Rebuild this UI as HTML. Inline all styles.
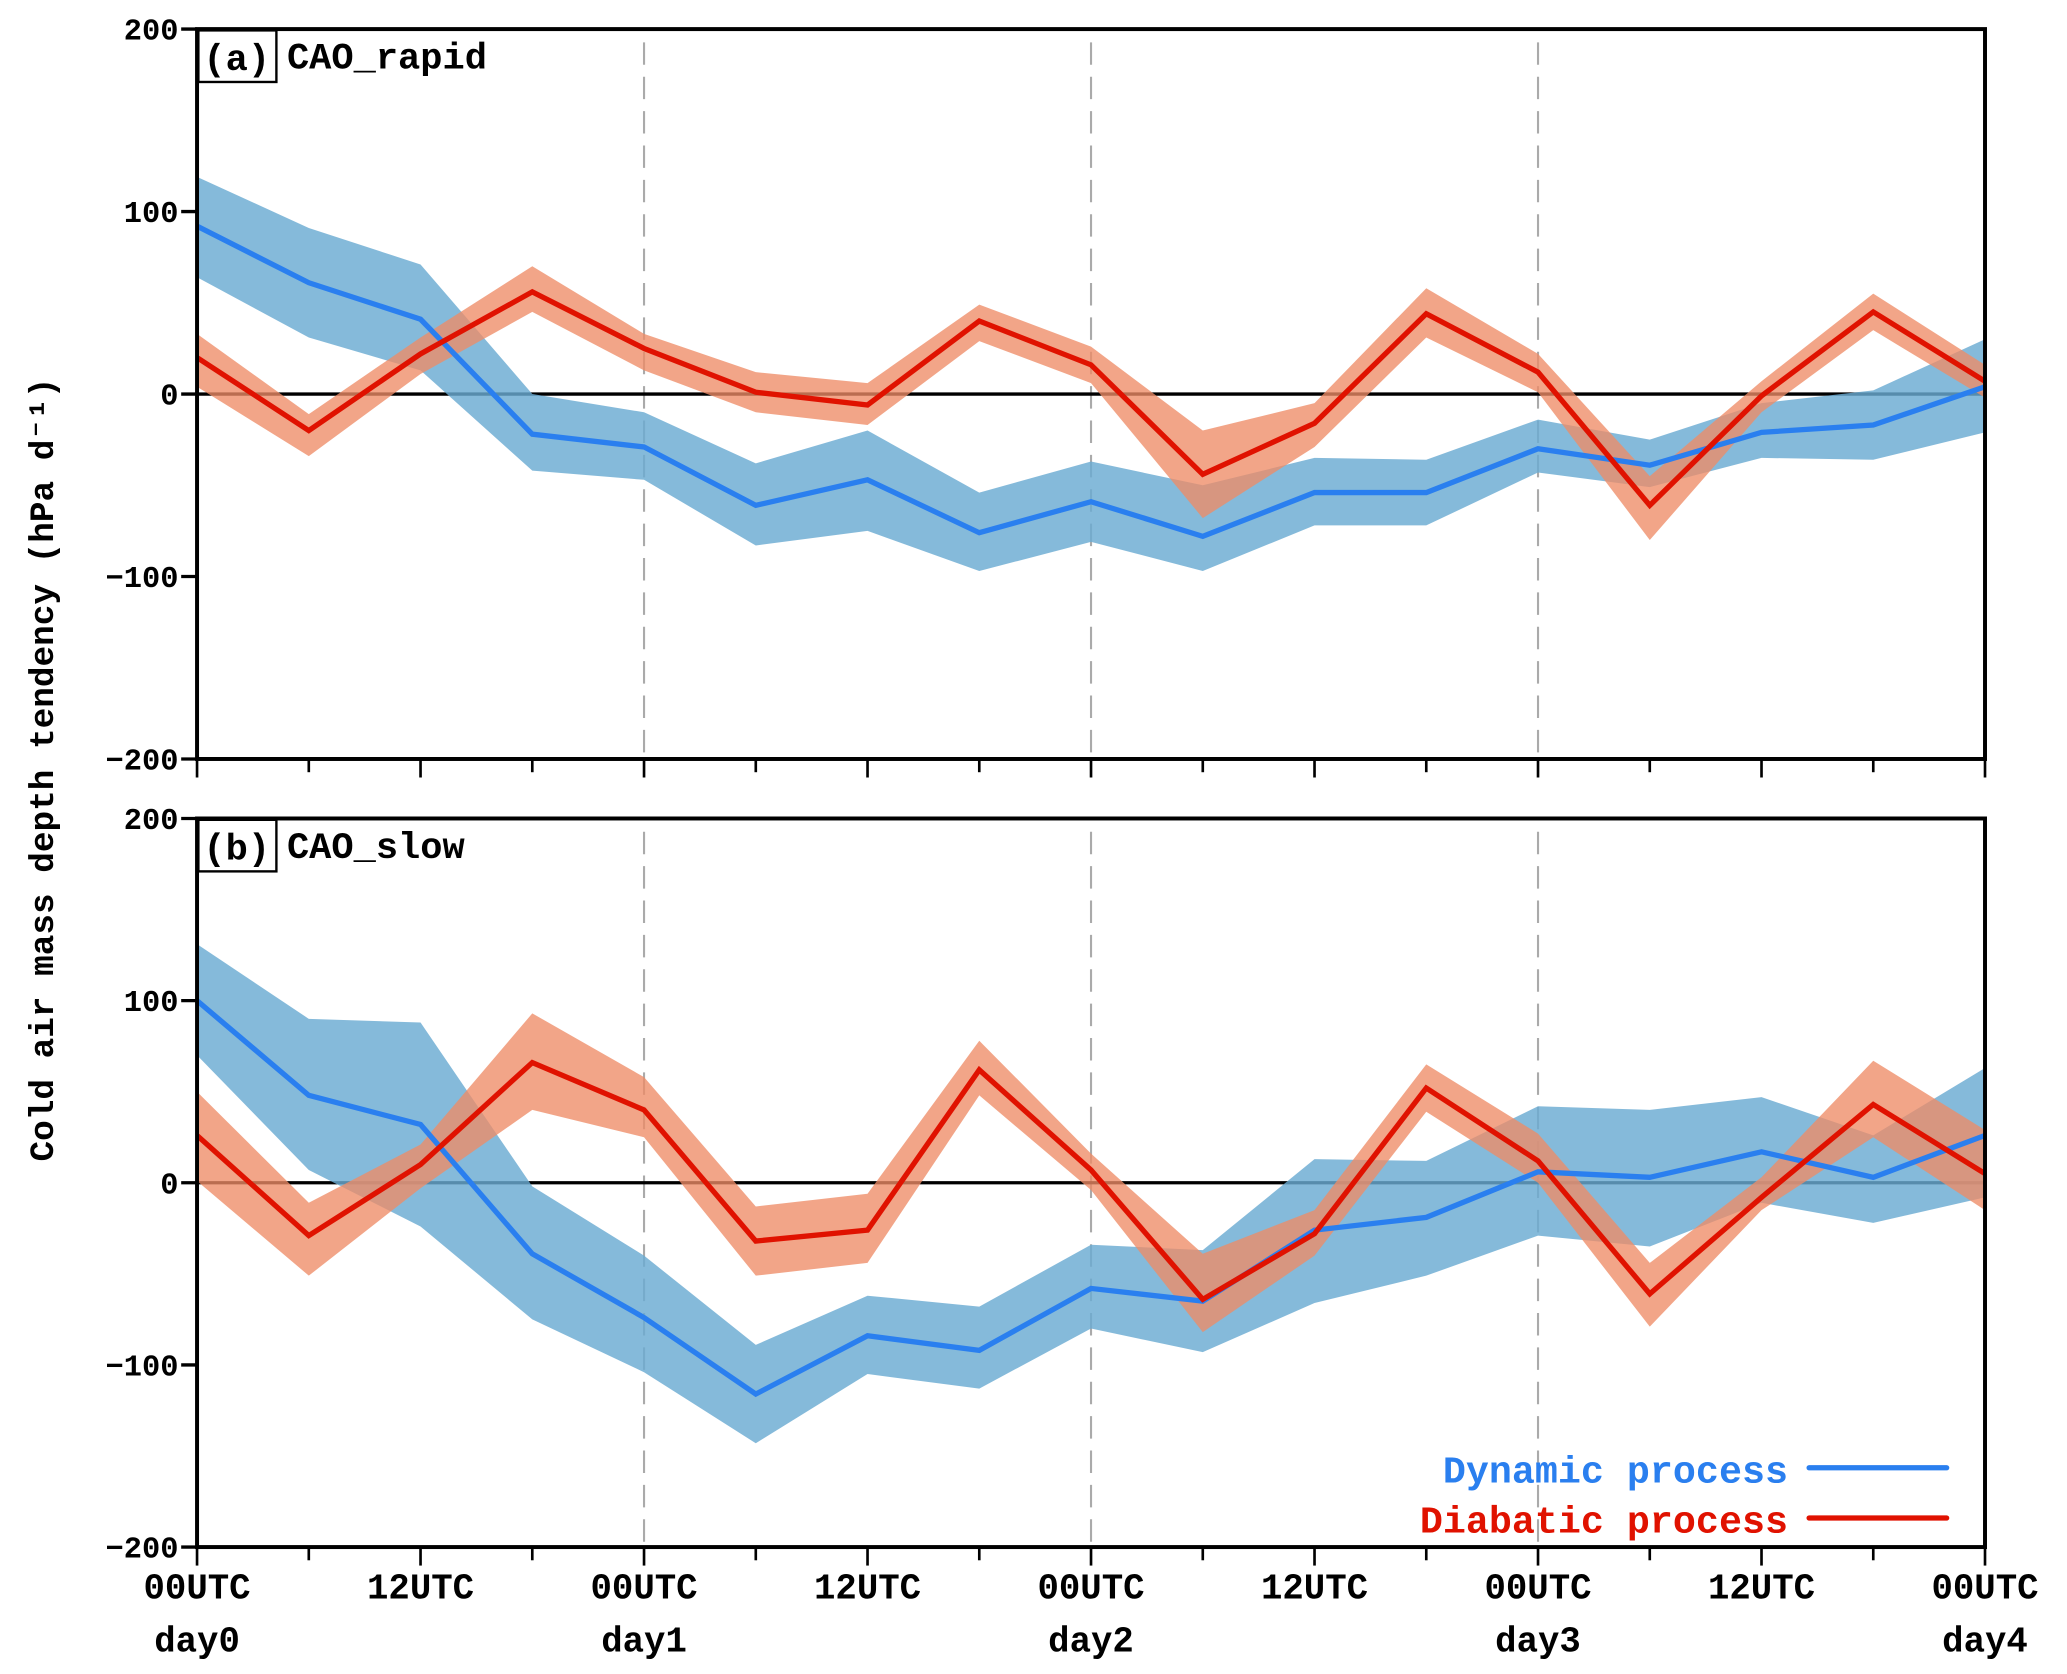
<!DOCTYPE html>
<html><head><meta charset="utf-8"><style>
html,body{margin:0;padding:0;background:#fff;}
svg{display:block;}
text{font-family:"Liberation Mono",monospace;font-weight:bold;}
</style></head>
<body>
<svg id="chart" width="2067" height="1674" viewBox="0 0 1563 1266" preserveAspectRatio="none" xmlns="http://www.w3.org/2000/svg">
<text transform="translate(40,582) rotate(-90)" text-anchor="middle" font-size="26">Cold air mass depth tendency (hPa d⁻¹)</text>
<g id="layer"></g>
</svg>
<script>
const xTickLabels=["00UTC","","12UTC","","00UTC","","12UTC","","00UTC","","12UTC","","00UTC","","12UTC","","00UTC"];
const dayLabels=["day0","","","","day1","","","","day2","","","","day3","","","","day4"];
const yTicks=[200,100,0,-100,-200];
// panel a
const aDynMean=[92,61,41,-22,-29,-61,-47,-76,-59,-78,-54,-54,-30,-39,-21,-17,4];
const aDynUp=[119,91,71,0,-10,-38,-20,-54,-37,-50,-35,-36,-14,-25,-5,2,30];
const aDynLo=[64,31,13,-42,-47,-83,-75,-97,-81,-97,-72,-72,-43,-51,-35,-36,-21];
const aDiaMean=[20,-20,22,56,25,1,-6,40,16,-44,-16,44,12,-61,-1,45,7];
const aDiaUp=[33,-11,31,70,33,12,6,49,26,-20,-5,58,22,-45,7,55,16];
const aDiaLo=[4,-34,11,45,13,-10,-17,29,6,-68,-29,31,1,-80,-10,35,-2];
// panel b
const bDynMean=[100,48,32,-39,-74,-116,-84,-92,-58,-65,-26,-19,6,3,17,3,26];
const bDynUp=[131,90,88,-2,-40,-89,-62,-68,-34,-37,13,12,42,40,47,26,63];
const bDynLo=[70,7,-24,-75,-104,-143,-105,-113,-80,-93,-66,-51,-29,-35,-11,-22,-8];
const bDiaMean=[26,-29,10,66,40,-32,-26,62,7,-64,-28,52,12,-61,-8,43,5];
const bDiaUp=[50,-11,21,93,58,-13,-6,78,16,-39,-15,65,27,-44,3,67,29];
const bDiaLo=[1,-51,-3,40,25,-51,-44,48,-4,-82,-40,39,0,-79,-15,25,-15];

const NS="http://www.w3.org/2000/svg";
const layer=document.getElementById('layer');
const X0=149,X1=1501;
function xs(i){return X0+(X1-X0)*i/16;}
function mk(tag,attrs,parent){const e=document.createElementNS(NS,tag);for(const k in attrs)e.setAttribute(k,attrs[k]);(parent||layer).appendChild(e);return e;}
function panel(id,top,bot,title,dynM,dynU,dynL,diaM,diaU,diaL,bottomLabels){
  const ys=v=>top+(200-v)/400*(bot-top);
  const g=mk('g',{});
  
  
  [4,8,12].forEach(i=>{const l=mk('line',{x1:xs(i),x2:xs(i),y1:top+10,y2:bot,stroke:'#aaa','stroke-width':1.6,'stroke-dasharray':'17,9'},g);
    
    });
  const z=mk('line',{x1:X0,x2:X1,y1:ys(0),y2:ys(0),stroke:'#000','stroke-width':2.5},g);
  
  
  function band(up,lo,fill,op,name){
    let d='';up.forEach((v,i)=>{d+=(i?'L':'M')+xs(i)+','+ys(v);});
    for(let i=lo.length-1;i>=0;i--)d+='L'+xs(i)+','+ys(lo[i]);
    const p=mk('path',{d:d+'Z',fill:fill,'fill-opacity':op},g);
    
    
  }
  function line(vals,col,name){
    const p=mk('polyline',{points:vals.map((v,i)=>xs(i)+','+ys(v)).join(' '),fill:'none',stroke:col,'stroke-width':4,'stroke-linejoin':'miter'},g);
    
    
  }
  band(dynU,dynL,'#6aabd2',0.82,'dynamic-spread-band');
  band(diaU,diaL,'#ee8c66',0.78,'diabatic-spread-band');
  line(dynM,'#2a7fef','dynamic-process-line');
  line(diaM,'#e01200','diabatic-process-line');
  const fr=mk('rect',{x:X0,y:top,width:X1-X0,height:bot-top,fill:'none',stroke:'#000','stroke-width':3},g);
  
  
  yTicks.forEach(v=>{
    mk('line',{x1:X0-12,x2:X0,y1:ys(v),y2:ys(v),stroke:'#000','stroke-width':2.5},g);
    const t=mk('text',{x:X0-14,y:ys(v)+8,'text-anchor':'end','font-size':23,'font-family':'Liberation Sans, sans-serif'},g);
    t.textContent=(v<0?'−':'')+Math.abs(v);
    
    
  });
  xTickLabels.forEach((s,i)=>{
    mk('line',{x1:xs(i),x2:xs(i),y1:bot,y2:bot+(i%2?10:14),stroke:'#000','stroke-width':2},g);
    if(bottomLabels){
      if(s){const t=mk('text',{x:xs(i),y:bot+39,'text-anchor':'middle','font-size':27},g);t.textContent=s;
        
        }
      if(dayLabels[i]){const t=mk('text',{x:xs(i),y:bot+79,'text-anchor':'middle','font-size':27},g);t.textContent=dayLabels[i];
        
        }
    }
  });
  const bx=mk('rect',{x:X0+1,y:top+1,width:59,height:39,fill:'#fff',stroke:'#000','stroke-width':1.8},g);
  
  
  const lt=mk('text',{x:X0+30,y:top+31,'text-anchor':'middle','font-size':28},g);lt.textContent='('+id+')';
  
  
  const tt=mk('text',{x:X0+68,y:top+30,'font-size':28},g);tt.textContent=title;
  
  
}
panel('a',22,574,'CAO_rapid',aDynMean,aDynUp,aDynLo,aDiaMean,aDiaUp,aDiaLo,false);
panel('b',619,1170,'CAO_slow',bDynMean,bDynUp,bDynLo,bDiaMean,bDiaUp,bDiaLo,true);
const lg=mk('g',{});


const t1=mk('text',{x:1352,y:1121,'text-anchor':'end','font-size':29,fill:'#2a7fef','font-weight':'normal'},lg);t1.textContent='Dynamic process';


mk('line',{x1:1368,x2:1472,y1:1110,y2:1110,stroke:'#2a7fef','stroke-width':4,'stroke-linecap':'round'},lg);
const t2=mk('text',{x:1352,y:1159,'text-anchor':'end','font-size':29,fill:'#e01200','font-weight':'normal'},lg);t2.textContent='Diabatic process';


mk('line',{x1:1368,x2:1472,y1:1148,y2:1148,stroke:'#e01200','stroke-width':4,'stroke-linecap':'round'},lg);
</script>
</body></html>
